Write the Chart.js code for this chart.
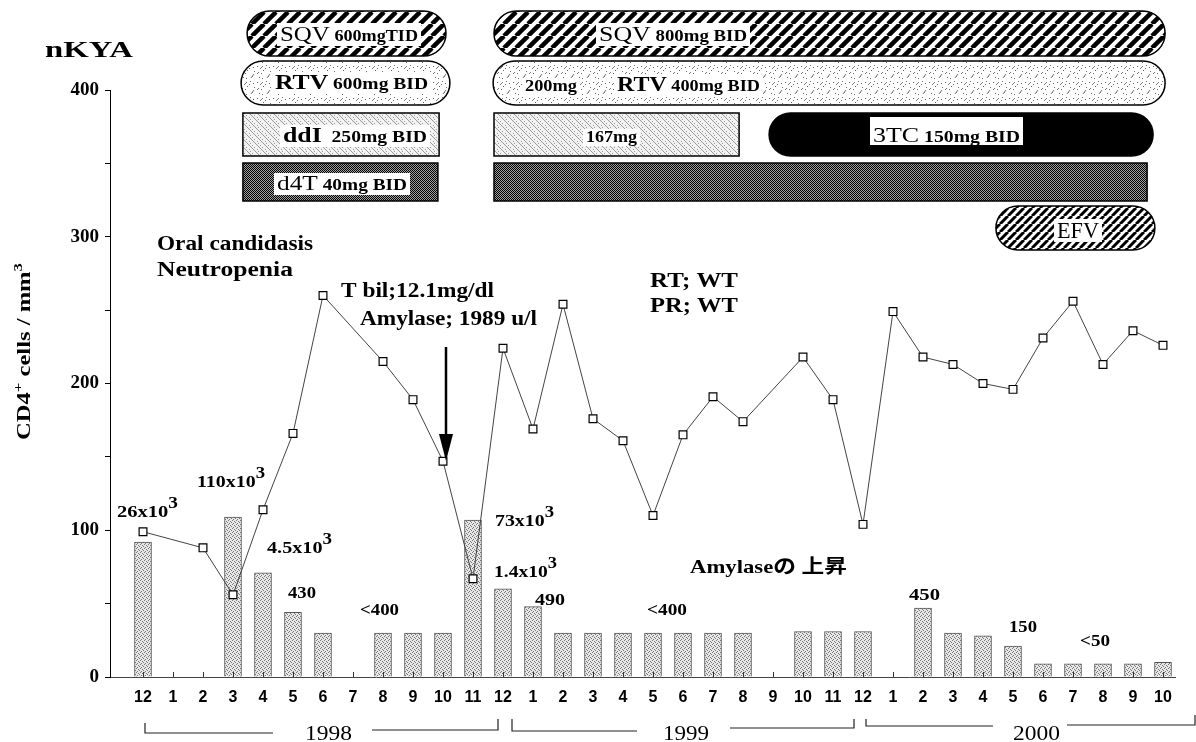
<!DOCTYPE html>
<html>
<head>
<meta charset="utf-8">
<script src="https://cdn.jsdelivr.net/npm/chart.js@4.4.1/dist/chart.umd.min.js"></script>
<style>
html, body { margin: 0; padding: 0; background: #fff; }
canvas { display: block; }
</style>
</head>
<body>
<canvas id="myChart" width="1196" height="742"></canvas>
<script>
// months Dec 1997 .. Oct 2000
const months = ['12','1','2','3','4','5','6','7','8','9','10','11',
                '12','1','2','3','4','5','6','7','8','9','10','11',
                '12','1','2','3','4','5','6','7','8','9','10'];
const years = ['1998', '1999', '2000'];
// CD4+ cells / mm3 (line)
const cd4 = [99, null, 88, 56, 114, 166, 260, null, 215, 189, 147, 67,
             224, 169, 254, 176, 161, 110, 165, 191, 174, null, 218, 189,
             104, 249, 218, 213, 200, 196, 231, 256, 213, 236, 226];
// HIV RNA bars
const rna = [92, null, null, 109, 71, 44, 30, null, 30, 30, 30, 107,
             60, 48, 30, 30, 30, 30, 30, 30, 30, null, 31, 31,
             31, null, 47, 30, 28, 21, 9, 9, 9, 9, 10];
// treatment periods (month index)
const regimenDrug  = ['SQV', 'RTV', 'ddI', 'd4T', 'SQV', 'RTV', 'ddI', '3TC', 'd4T', 'EFV'];
const regimenStart = [3.47, 3.27, 3.33, 3.33, 11.7, 11.67, 11.7, 20.87, 11.7, 28.43];
const regimenEnd   = [10.1, 10.23, 9.87, 9.83, 34.07, 34.07, 19.87, 33.67, 33.47, 33.73];

const SERIF = '"Liberation Serif", "Times New Roman", serif';
const B = s => 'bold ' + s + 'px ' + SERIF;
const R = s => s + 'px ' + SERIF;
const JP = 'bold 19px "Liberation Serif", "Noto Sans CJK JP", serif';

const canvas = document.getElementById('myChart');
const ctx = canvas.getContext('2d');

function makePattern(w, h, draw) {
    const c = document.createElement('canvas');
    c.width = w; c.height = h;
    const g = c.getContext('2d');
    draw(g, w, h);
    return ctx.createPattern(c, 'repeat');
}
function stripes(p, lw) {
    return makePattern(p, p, function(g, w, h) {
        g.fillStyle = '#fff'; g.fillRect(0, 0, w, h);
        g.strokeStyle = '#000'; g.lineWidth = lw;
        for (let k = -1; k <= 1; k++) {
            g.beginPath(); g.moveTo(k * w, h); g.lineTo(k * w + w, 0); g.stroke();
        }
    });
}
const barFill = makePattern(4, 4, function(g) {
    g.fillStyle = '#e8e8e8'; g.fillRect(0, 0, 4, 4);
    g.fillStyle = '#777';
    [[0,0],[2,1],[1,3],[3,2]].forEach(p => g.fillRect(p[0], p[1], 1, 1));
});
const sqvFill = stripes(12, 4.5);
const efvFill = stripes(8, 3);
const rtvFill = makePattern(16, 16, function(g) {
    g.fillStyle = '#fff'; g.fillRect(0, 0, 16, 16);
    g.fillStyle = '#666';
    [[1,2],[5,9],[9,4],[12,12],[3,13],[7,6],[14,7],[10,1],[6,14],[13,3]].forEach(p => g.fillRect(p[0], p[1], 1, 1));
    g.strokeStyle = '#777'; g.lineWidth = 1;
    g.beginPath(); g.moveTo(4, 5); g.lineTo(7, 2); g.moveTo(11, 14); g.lineTo(14, 10);
    g.moveTo(1, 10); g.lineTo(3, 8); g.stroke();
});
const ddiFill = makePattern(8, 8, function(g) {
    g.fillStyle = '#f2f2f2'; g.fillRect(0, 0, 8, 8);
    g.fillStyle = '#9a9a9a';
    for (let i = 0; i < 8; i++) g.fillRect(i, i, 1, 1);
    [[4,1],[6,3],[1,5],[2,7]].forEach(p => g.fillRect(p[0], p[1], 1, 1));
});
const d4tFill = makePattern(2, 2, function(g) {
    g.fillStyle = '#a0a0a0'; g.fillRect(0, 0, 2, 2);
    g.fillStyle = '#000'; g.fillRect(0, 0, 1, 1); g.fillRect(1, 1, 1, 1);
});

const drugStyle = {
    SQV: { row: 0, pill: true, fill: sqvFill },
    RTV: { row: 1, pill: true, fill: rtvFill },
    ddI: { row: 2, pill: false, fill: ddiFill },
    '3TC': { row: 2, pill: true, fill: '#000' },
    d4T: { row: 3, pill: false, fill: d4tFill },
    EFV: { row: 4, pill: true, fill: efvFill }
};
const rows = [[11, 56], [61, 105], [113, 156], [163, 201], [206, 250]];

function shapePath(c, x1, y1, x2, y2, pill) {
    c.beginPath();
    if (!pill) { c.rect(x1, y1, x2 - x1, y2 - y1); return; }
    const r = (y2 - y1) / 2;
    c.moveTo(x1 + r, y1);
    c.lineTo(x2 - r, y1);
    c.arc(x2 - r, y1 + r, r, -Math.PI / 2, Math.PI / 2);
    c.lineTo(x1 + r, y2);
    c.arc(x1 + r, y1 + r, r, Math.PI / 2, Math.PI * 1.5);
    c.closePath();
}

// parts: [text, font, dy]; scaled horizontally to targetW
function rich(c, parts, x, base, targetW, bg) {
    let total = 0;
    parts.forEach(p => { c.font = p[1]; total += c.measureText(p[0]).width; });
    const sx = targetW ? targetW / total : 1;
    if (bg) {
        c.fillStyle = '#fff';
        c.fillRect(x - 3, base - bg[0], total * sx + 6, bg[0] + bg[1]);
    }
    c.save();
    c.translate(x, base);
    c.scale(sx, 1);
    c.fillStyle = '#000';
    c.textAlign = 'left';
    c.textBaseline = 'alphabetic';
    let cx = 0;
    parts.forEach(p => { c.font = p[1]; c.fillText(p[0], cx, p[2] || 0); cx += c.measureText(p[0]).width; });
    c.restore();
}

const decor = {
    id: 'decor',
    beforeDraw(chart) {
        const c = chart.ctx;
        c.save(); c.fillStyle = '#fff'; c.fillRect(0, 0, chart.width, chart.height); c.restore();
    },
    afterDatasetsDraw(chart) {
        const c = chart.ctx, xs = chart.scales.x, bottom = chart.chartArea.bottom;
        c.save();
        c.strokeStyle = '#333'; c.lineWidth = 1;
        months.forEach((m, i) => {
            const x = Math.round(xs.getPixelForValue(i)) + 0.5;
            c.beginPath(); c.moveTo(x, bottom); c.lineTo(x, bottom - 5); c.stroke();
        });
        c.restore();
    },
    afterDraw(chart) {
        const c = chart.ctx, xs = chart.scales.x;
        c.save();

        // treatment bars
        regimenDrug.forEach((d, i) => {
            const st = drugStyle[d], r = rows[st.row];
            const x1 = xs.getPixelForValue(regimenStart[i]), x2 = xs.getPixelForValue(regimenEnd[i]);
            shapePath(c, x1, r[0], x2, r[1], st.pill);
            c.fillStyle = st.fill; c.fill();
            c.strokeStyle = '#000'; c.lineWidth = 1.5; c.stroke();
        });

        // bar texts
        rich(c, [['SQV', R(22)], [' 600mgTID', B(16)]], 280, 41, 138, [18, 5]);
        rich(c, [['RTV', B(21)], [' 600mg BID', B(16)]], 275, 89, 153, [17, 5]);
        rich(c, [['ddI', B(21)], ['  250mg BID', B(16)]], 283, 142, 144, [17, 5]);
        rich(c, [['d4T', R(21)], [' 40mg BID', B(16)]], 277, 190, 130, [17, 5]);
        rich(c, [['SQV', R(22)], [' 800mg BID', B(16)]], 599, 41, 148, [18, 5]);
        rich(c, [['200mg', B(16)]], 525, 91, 52, [13, 4]);
        rich(c, [['RTV', B(21)], [' 400mg BID', B(16)]], 617, 91, 143, [17, 5]);
        rich(c, [['167mg', B(16)]], 586, 142, 51, [13, 4]);
        rich(c, [['3TC', R(21)], [' 150mg BID', B(16)]], 873, 142, 147, [25, 3]);
        rich(c, [['EFV', R(24)]], 1057, 238, 42, [19, 4]);

        // header and axis title
        rich(c, [['nKYA', B(24)]], 45, 57, 88);
        c.save();
        c.translate(30, 440);
        c.rotate(-Math.PI / 2);
        rich(c, [['CD4', B(19)], ['+', B(13), -8], [' cells / mm', B(19)], ['3', B(13), -8]], 0, 0, 177);
        c.restore();

        // annotations
        rich(c, [['Oral candidasis', B(20)]], 157, 250, 156);
        rich(c, [['Neutropenia', B(20)]], 157, 276, 136);
        rich(c, [['T bil;12.1mg/dl', B(20)]], 341, 297, 153);
        rich(c, [['Amylase; 1989 u/l', B(20)]], 360, 325, 177);
        rich(c, [['RT; WT', B(20)]], 650, 287, 88);
        rich(c, [['PR; WT', B(20)]], 650, 312, 88);
        rich(c, [['26x10', B(17)], ['3', B(16), -9]], 117, 517, 61);
        rich(c, [['110x10', B(17)], ['3', B(16), -9]], 197, 487, 68);
        rich(c, [['4.5x10', B(17)], ['3', B(16), -9]], 267, 553, 65);
        rich(c, [['430', B(17)]], 288, 598, 28);
        rich(c, [['<400', B(17)]], 360, 615, 39);
        rich(c, [['73x10', B(17)], ['3', B(16), -9]], 495, 526, 59);
        rich(c, [['1.4x10', B(17)], ['3', B(16), -9]], 494, 577, 63);
        rich(c, [['490', B(17)]], 535, 605, 30);
        rich(c, [['<400', B(17)]], 647, 615, 40);
        rich(c, [['Amylaseの 上昇', JP]], 690, 573, 157);
        rich(c, [['450', B(17)]], 909, 600, 31);
        rich(c, [['150', B(17)]], 1009, 632, 28);
        rich(c, [['<50', B(17)]], 1080, 646, 30);

        // arrow
        c.strokeStyle = '#000'; c.lineWidth = 2.5;
        c.beginPath(); c.moveTo(446, 347); c.lineTo(446, 438); c.stroke();
        c.fillStyle = '#000';
        c.beginPath(); c.moveTo(439, 434); c.lineTo(453, 434); c.lineTo(446, 461); c.closePath(); c.fill();

        // year brackets
        c.strokeStyle = '#222'; c.lineWidth = 1.2;
        const seg = pts => { c.beginPath(); c.moveTo(pts[0], pts[1]); for (let k = 2; k < pts.length; k += 2) c.lineTo(pts[k], pts[k + 1]); c.stroke(); };
        seg([145, 723, 145, 733, 273, 733]);
        seg([372, 730, 498, 730, 498, 719]);
        seg([512, 719, 512, 731, 637, 731]);
        seg([730, 728, 854, 728, 854, 719]);
        seg([866, 719, 866, 726, 993, 726]);
        seg([1067, 725, 1195, 725, 1195, 715]);
        rich(c, [[years[0], R(22)]], 305, 740, 47);
        rich(c, [[years[1], R(22)]], 663, 740, 46);
        rich(c, [[years[2], R(22)]], 1013, 740, 47);

        c.restore();
    }
};

const myChart = new Chart(ctx, {
    type: 'bar',
    data: {
        datasets: [{
            type: 'line',
            label: 'CD4',
            data: cd4.map((v, i) => ({ x: i, y: v })).filter(p => p.y !== null),
            borderColor: '#444',
            borderWidth: 1,
            pointStyle: 'rect',
            pointRadius: 5.5,
            pointBackgroundColor: '#fff',
            pointBorderColor: '#000',
            pointBorderWidth: 1.2,
            tension: 0,
            order: 0,
            clip: false
        }, {
            type: 'bar',
            label: 'RNA',
            data: rna.map((v, i) => ({ x: i, y: v })).filter(p => p.y !== null),
            backgroundColor: barFill,
            borderColor: '#555',
            borderWidth: 1,
            barThickness: 17,
            order: 1
        }]
    },
    options: {
        responsive: false,
        animation: false,
        layout: { padding: { top: 90, right: 21, bottom: 0, left: 0 } },
        plugins: { legend: { display: false }, tooltip: { enabled: false } },
        scales: {
            x: {
                type: 'linear',
                min: -1.1,
                max: 34.4,
                offset: false,
                afterBuildTicks: function(scale) {
                    scale.ticks = months.map((m, i) => ({ value: i }));
                },
                afterFit: function(scale) { scale.height = 65; },
                ticks: {
                    autoSkip: false,
                    maxRotation: 0,
                    padding: 11,
                    color: '#000',
                    font: { family: '"Liberation Sans", Arial, sans-serif', size: 16, weight: 'bold' },
                    callback: function(v) { return months[v]; }
                },
                grid: { display: true, drawOnChartArea: false, drawTicks: false, offset: false },
                border: { display: true, color: '#444', width: 1 }
            },
            y: {
                min: 0,
                max: 400,
                afterFit: function(scale) { scale.width = 110; },
                ticks: {
                    stepSize: 50,
                    padding: 6,
                    color: '#000',
                    font: { family: 'Liberation Serif', size: 19, weight: 'bold' },
                    callback: function(v) { return v % 100 === 0 ? v : ''; }
                },
                grid: { display: true, drawOnChartArea: false, drawTicks: true, tickLength: 5, color: '#000' },
                border: { display: true, color: '#000', width: 1 }
            }
        }
    },
    plugins: [decor]
});
</script>
</body>
</html>
